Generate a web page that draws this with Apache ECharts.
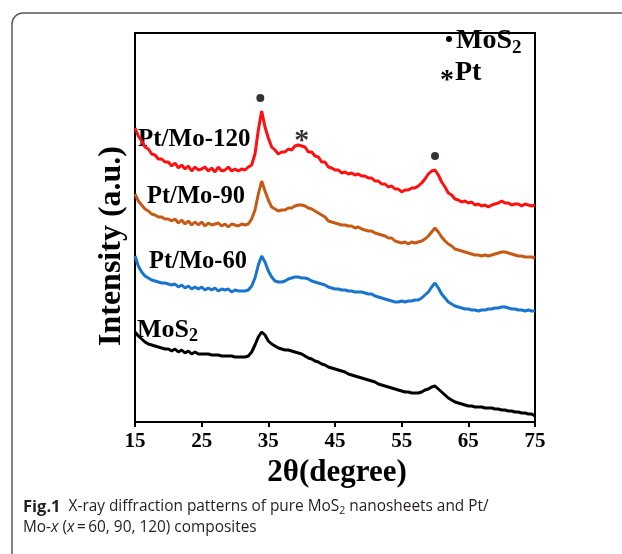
<!DOCTYPE html>
<html><head><meta charset="utf-8">
<script src="https://cdn.jsdelivr.net/npm/echarts@6/dist/echarts.min.js"></script>
<style>html,body{margin:0;padding:0;background:#fff}#c{width:622px;height:554px}</style>
</head><body><div id="c"></div>
<script>
// 2θ sampling: 15° to 75° every 0.5°
const thetaStart = 15, thetaStep = 0.5;
const xTicks = [15, 25, 35, 45, 55, 65, 75];
const seriesNames = ['Pt/Mo-120', 'Pt/Mo-90', 'Pt/Mo-60', 'MoS2'];
// intensities (a.u., offset-stacked as in the figure)
const ptMo120 = [
 294,286,281,275,273,268,267,263,263,260,
 260,256,259,254,257,253,256,251,255,252,
 253,255,251,254,250,255,251,252,255,251,
 253,251,253,252,255,257,268,292,311,295,
 284,275,272,268,270,270,273,272,276,277,
 276,275,270,270,266,265,260,260,255,254,
 252,252,249,250,248,249,247,248,246,246,
 244,244,241,241,238,238,235,236,233,233,
 230,232,232,234,234,236,239,243,248,251,
 252,247,240,235,229,227,223,222,220,221,
 219,220,217,218,216,217,215,217,218,219,
 221,219,219,217,218,218,216,218,217,216,
 217];
const ptMo90 = [
 228,221,217,213,211,208,207,205,205,203,
 203,201,203,199,202,198,201,197,200,197,
 200,196,199,197,198,199,196,198,195,198,
 197,196,198,197,198,203,212,228,241,231,
 222,215,213,211,212,212,214,214,216,217,
 217,216,214,213,211,209,207,205,201,200,
 199,198,197,197,196,196,194,195,193,192,
 191,191,189,188,187,186,184,184,181,180,
 179,180,178,180,179,180,181,183,186,190,
 194,190,185,181,178,176,173,172,171,170,
 169,168,167,167,166,167,166,167,168,169,
 170,170,169,168,167,166,166,165,165,165,
 164];
const ptMo60 = [
 166,156,150,146,144,142,141,140,139,139,
 138,137,138,135,137,134,136,133,135,133,
 135,132,134,132,134,131,133,132,133,130,
 132,131,131,131,132,136,144,157,166,160,
 151,145,141,140,140,141,143,144,145,145,
 144,144,143,141,140,139,138,137,135,134,
 133,133,132,132,131,131,130,130,130,129,
 128,128,126,125,124,123,122,121,120,120,
 121,120,121,121,122,122,124,127,130,135,
 139,134,128,124,120,118,116,115,114,113,
 113,112,112,111,112,112,113,113,114,114,
 115,115,114,113,113,112,112,111,112,111,
 111];
const mos2 = [
 90,86,83,80,78,77,76,75,74,73,
 73,71,73,70,72,69,71,68,70,68,
 68,68,68,67,67,67,66,66,66,66,
 65,65,65,65,66,70,77,85,90,87,
 81,78,76,74,73,72,72,71,70,69,
 68,66,64,63,61,60,58,57,55,54,
 53,52,51,50,48,47,46,45,44,43,
 42,41,40,38,37,36,35,34,33,32,
 31,30,30,29,29,29,30,32,33,35,
 36,33,30,27,24,22,20,19,18,17,
 16,16,15,15,15,14,14,14,13,13,
 12,12,11,11,10,10,9,9,8,8,
 6];
// peak markers (2θ, height above trace)
const dotMarks = [[33.8, 324], [60.0, 266]];
const starMarks = [[40.0, 289]];

const colors = ['#ff1010', '#c65a14', '#1874cd', '#000000'];
const allSeries = [ptMo120, ptMo90, ptMo60, mos2];
const pairs = arr => arr.map((v, i) => [thetaStart + i * thetaStep, v]);

const chart = echarts.init(document.getElementById('c'), null, {renderer: 'canvas'});
const serif = '"Liberation Serif", "Times New Roman", serif';
const sans = '"Open Sans", sans-serif';
const lineSeries = allSeries.map((arr, k) => ({
  name: seriesNames[k], type: 'line', data: pairs(arr), showSymbol: false,
  lineStyle: {color: colors[k], width: 3}, silent: true, z: 3
}));
chart.setOption({
  animation: false,
  grid: {left: 135, right: 87, top: 33, bottom: 132, show: true, borderColor: '#000', borderWidth: 2, backgroundColor: 'transparent'},
  xAxis: {
    type: 'value', min: 15, max: 75,
    axisLine: {show: true, lineStyle: {color: '#000', width: 2}},
    axisTick: {show: true, length: 5, lineStyle: {color: '#000', width: 2}, customValues: xTicks},
    axisLabel: {customValues: xTicks, color: '#000', fontFamily: serif, fontWeight: 'bold', fontSize: 21, margin: 9},
    splitLine: {show: false}
  },
  yAxis: {
    type: 'value', min: 0, max: 389,
    axisLine: {show: true, lineStyle: {color: '#000', width: 2}},
    axisTick: {show: false}, axisLabel: {show: false}, splitLine: {show: false}
  },
  series: lineSeries.concat([
    {type: 'scatter', data: dotMarks, symbol: 'circle', symbolSize: 8, itemStyle: {color: '#000'}, silent: true, z: 4},
    {type: 'scatter', data: starMarks, symbolSize: 1, itemStyle: {color: 'transparent'}, silent: true, z: 4,
     label: {show: true, formatter: '*', position: 'inside', offset: [0, 8], color: '#000', fontFamily: serif, fontWeight: 'bold', fontSize: 30}}
  ]),
  graphic: [
    {type: 'rect', shape: {x: 12, y: 13, width: 800, height: 800, r: 11}, style: {fill: 'none', stroke: '#5a5a5a', lineWidth: 1.5}, silent: true},
    {type: 'text', x: 138, y: 140, style: {text: 'Pt/Mo-120', fill: '#000', font: 'bold 25px ' + serif, verticalAlign: 'middle'}},
    {type: 'text', x: 147, y: 197, style: {text: 'Pt/Mo-90', fill: '#000', font: 'bold 24.5px ' + serif, verticalAlign: 'middle'}},
    {type: 'text', x: 149, y: 262, style: {text: 'Pt/Mo-60', fill: '#000', font: 'bold 24.5px ' + serif, verticalAlign: 'middle'}},
    {type: 'text', x: 137, y: 330, style: {text: '{a|MoS}{s|2}', verticalAlign: 'middle', rich: {
      a: {fill: '#000', fontFamily: serif, fontWeight: 'bold', fontSize: 26},
      s: {fill: '#000', fontFamily: serif, fontWeight: 'bold', fontSize: 18, padding: [12, 0, 0, 0]}}}},
    {type: 'circle', shape: {cx: 449, cy: 39, r: 3}, style: {fill: '#000'}},
    {type: 'text', x: 456, y: 41, style: {text: '{a|MoS}{s|2}', verticalAlign: 'middle', rich: {
      a: {fill: '#000', fontFamily: serif, fontWeight: 'bold', fontSize: 28},
      s: {fill: '#000', fontFamily: serif, fontWeight: 'bold', fontSize: 19, padding: [14, 0, 0, 0]}}}},
    {type: 'text', x: 440, y: 81, style: {text: '*', fill: '#000', font: 'bold 28px ' + serif, verticalAlign: 'middle'}},
    {type: 'text', x: 455, y: 73, style: {text: 'Pt', fill: '#000', font: 'bold 28px ' + serif, verticalAlign: 'middle'}},
    {type: 'text', x: 337, y: 473, style: {text: '2θ(degree)', fill: '#000', font: 'bold 31px ' + serif, align: 'center', verticalAlign: 'middle'}},
    {type: 'text', x: 112, y: 246, rotation: Math.PI / 2, style: {text: 'Intensity (a.u.)', fill: '#000', font: 'bold 32px ' + serif, align: 'center', verticalAlign: 'middle'}},
    {type: 'text', x: 23, y: 507, style: {text: '{b|Fig.1}  X-ray diffraction patterns of pure MoS{s|2} nanosheets and Pt/', verticalAlign: 'middle', fill: '#231f20', font: '15.4px ' + sans, rich: {
      b: {fontFamily: sans, fontWeight: 'bold', fontSize: 16.5, fill: '#231f20'},
      s: {fontFamily: sans, fontSize: 10.5, fill: '#231f20', padding: [8, 0, 0, 0]}}}},
    {type: 'text', x: 23, y: 528, style: {text: 'Mo-{i|x} ({i|x}\u2009=\u200960, 90, 120) composites', verticalAlign: 'middle', fill: '#231f20', font: '15.4px ' + sans, rich: {
      i: {fontFamily: sans, fontStyle: 'italic', fontSize: 15.4, fill: '#231f20'}}}}
  ]
});
</script></body></html>
